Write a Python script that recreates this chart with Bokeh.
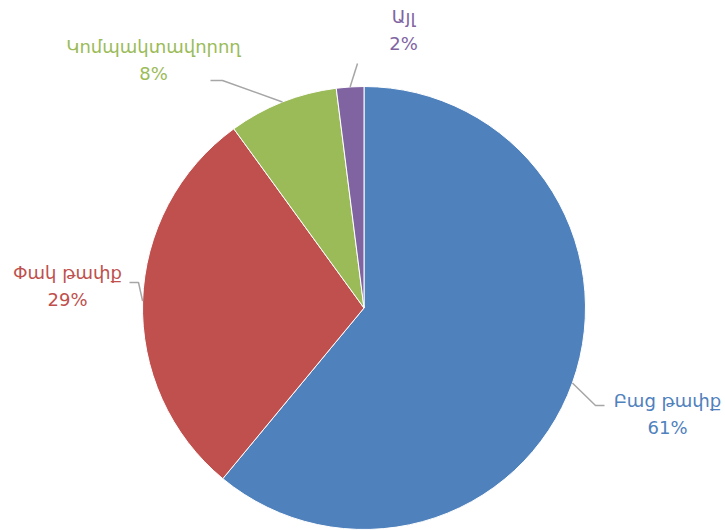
import math
from bokeh.plotting import figure
from bokeh.models import Range1d
from bokeh.core.properties import value
from bokeh.embed import file_html
from bokeh.resources import INLINE

# ---- data ----
categories = ["Բաց թափք", "Փակ թափք", "Կոմպակտավորող", "Այլ"]
shares = [61, 29, 8, 2]
colors = ["#4F81BD", "#C0504D", "#9BBB59", "#8064A2"]

# ---- layout (picture pixels) ----
W, H = 725, 530
def px(x, y):
    return x, H - y

CX, CY = px(363.5, 307.5)
R = 221.5
FONT = "DejaVu Sans"
FS = "18px"

# label centre (picture px) and elbow geometry per slice
label_pos = [(667, 400), (67, 272), (153, 46), (403, 16)]
elbows = [[(595, 405), (604, 405)], [(138, 282), (129, 282)], [(222, 80), (210, 80)], [(357, 63)]]

p = figure(width=W, height=H, output_backend="svg", toolbar_location=None,
           x_range=Range1d(0, W), y_range=Range1d(0, H), min_border=0)
p.axis.visible = False
p.grid.visible = False
p.outline_line_color = None

total = sum(shares)
start = math.pi / 2
for cat, v, c, lp, el in zip(categories, shares, colors, label_pos, elbows):
    end = start - v / total * 2 * math.pi
    p.wedge(x=[CX], y=[CY], radius=R, start_angle=end, end_angle=start,
            fill_color=c, line_color="white", line_width=1)
    mid = (start + end) / 2
    ex, ey = CX + R * math.cos(mid), CY + R * math.sin(mid)
    xs = [ex] + [px(*q)[0] for q in el]
    ys = [ey] + [px(*q)[1] for q in el]
    p.line(xs, ys, line_color="#A6A6A6", line_width=1.5)
    lx, ly = px(*lp)
    p.text(x=[lx], y=[ly], text=[cat], text_color=c, text_align="center",
           text_baseline="middle", text_font=value(FONT), text_font_size=FS)
    p.text(x=[lx], y=[ly - 27], text=[f"{v}%"], text_color=c, text_align="center",
           text_baseline="middle", text_font=value(FONT), text_font_size=FS)
    start = end

open("out.html", "w").write(file_html(p, INLINE))
